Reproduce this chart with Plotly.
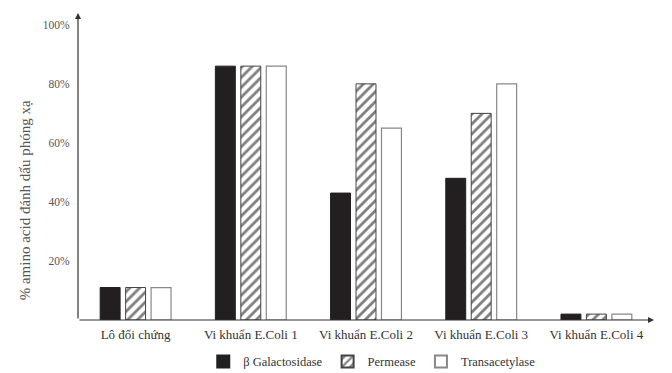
import plotly.graph_objects as go

categories = ["Lô đối chứng", "Vi khuẩn E.Coli 1", "Vi khuẩn E.Coli 2", "Vi khuẩn E.Coli 3", "Vi khuẩn E.Coli 4"]
galactosidase = [11, 86, 43, 48, 2]
permease = [11, 86, 80, 70, 2]
transacetylase = [11, 86, 65, 80, 2]
y_ticks = [20, 40, 60, 80, 100]
y_tick_labels = ["20%", "40%", "60%", "80%", "100%"]

FONT = "Liberation Serif, Times New Roman, serif"

fig = go.Figure()
fig.add_trace(go.Bar(
    name="β Galactosidase", x=categories, y=galactosidase,
    marker=dict(color="#231f20", line=dict(color="#231f20", width=1)),
))
fig.add_trace(go.Bar(
    name="Permease", x=categories, y=permease,
    marker=dict(color="white", line=dict(color="#444", width=1),
                pattern=dict(shape="/", fgcolor="#000", bgcolor="white", size=7, solidity=0.4)),
))
fig.add_trace(go.Bar(
    name="Transacetylase", x=categories, y=transacetylase,
    marker=dict(color="white", line=dict(color="#888", width=1.2)),
))

fig.update_layout(
    width=672, height=373,
    margin=dict(l=78, r=18, t=13, b=53, autoexpand=False),
    paper_bgcolor="white", plot_bgcolor="white",
    barmode="group", bargap=0.337, bargroupgap=0.217,
    font=dict(family=FONT, color="#333"),
    showlegend=True,
    legend=dict(orientation="h", x=0.51, xanchor="center", y=-0.136, yanchor="middle",
                font=dict(family=FONT, size=12.5, color="#333"), traceorder="normal",
                itemsizing="constant", bgcolor="rgba(0,0,0,0)"),
    xaxis=dict(range=[-0.5, 4.5], showline=False, showgrid=False, zeroline=False,
               automargin=False, ticklabelstandoff=5,
               ticks="", tickfont=dict(family=FONT, size=13, color="#333")),
    yaxis=dict(range=[0, 104], showline=False, showgrid=False, zeroline=False,
               automargin=False,
               tickvals=y_ticks, ticktext=y_tick_labels, ticks="outside", ticklen=5,
               tickcolor="rgba(0,0,0,0)",
               tickfont=dict(family=FONT, size=11.5, color="#555")),
)

# axis lines with arrowheads
fig.add_annotation(x=0, y=1, xref="paper", yref="paper", ax=0, ay=307,
                   showarrow=True, arrowhead=2, arrowsize=1, arrowwidth=1.2,
                   arrowcolor="#333", text="", standoff=0)
fig.add_annotation(x=1, y=0, xref="paper", yref="paper", ax=-576, ay=0,
                   showarrow=True, arrowhead=2, arrowsize=1, arrowwidth=1.2,
                   arrowcolor="#333", text="", standoff=0)

# y-axis title
fig.add_annotation(x=-0.092, y=0.39, xref="paper", yref="paper",
                   text="% amino acid đánh dấu phóng xạ", textangle=-90, showarrow=False,
                   font=dict(family=FONT, size=15, color="#555"),
                   xanchor="center", yanchor="middle")

fig.write_html("out.html", config={"displayModeBar": False},
               post_script="document.body.style.margin='0';document.body.style.padding='0';")
